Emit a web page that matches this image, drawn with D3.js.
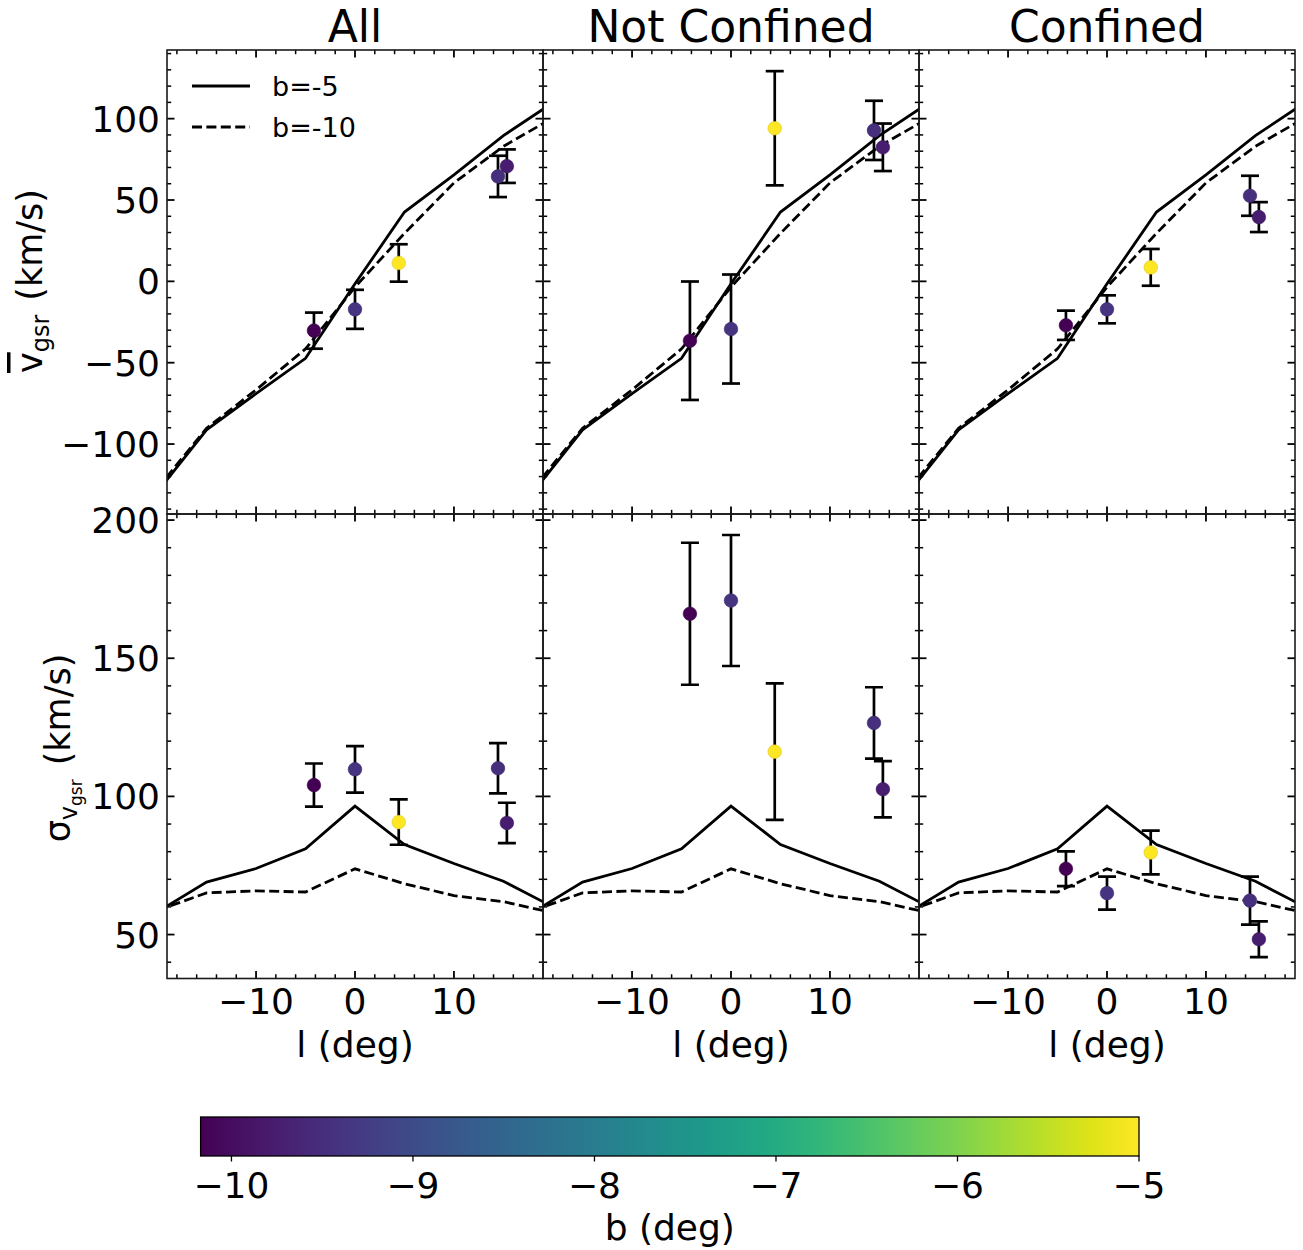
<!DOCTYPE html>
<html><head><meta charset="utf-8">
<script src="https://cdn.jsdelivr.net/npm/d3@7"></script>
<style>body{margin:0;background:#fff}svg{display:block}text{font-family:"DejaVu Sans",sans-serif;fill:#000}</style>
</head><body><svg id="c" width="1303" height="1250"></svg>
<script>
const panelTitles = ["All", "Not Confined", "Confined"];
const pointL = [-4.15, 0, 4.42, 14.45, 15.35];
const pointB = [-10.17, -9.4, -5.0, -9.45, -9.75];
const meanAll = [-30.3, -17.2, 11.3, 64.5, 70.8];
const meanAllErr = [11.1, 12.0, 11.5, 12.7, 10.3];
const meanNot = [-36.5, -29.3, 94.1, 92.8, 82.4];
const meanNotErr = [36.4, 33.5, 35.1, 18.2, 14.6];
const meanConf = [-27.0, -17.2, 8.6, 52.6, 39.5];
const meanConfErr = [9.0, 8.6, 11.3, 12.3, 9.2];
const sigAll = [104.1, 109.8, 90.7, 110.2, 90.4];
const sigAllErr = [7.8, 8.4, 8.2, 9.1, 7.3];
const sigNot = [166.1, 170.9, 116.2, 126.6, 102.6];
const sigNotErr = [25.7, 23.7, 24.7, 12.9, 10.2];
const sigConf = [73.8, 65.0, 79.7, 62.3, 48.3];
const sigConfErr = [6.3, 6.0, 7.9, 8.7, 6.5];
const modelL = [-20, -15, -10, -5, 0, 5, 10, 15, 20];
const meanB5 = [-129.7, -91.3, -69, -47.3, -1.5, 42.6, 65.5, 89.6, 109.8];
const meanB10 = [-127.5, -90.3, -66.7, -41.5, -3.5, 29.5, 60.5, 83, 100.5];
const sigB5 = [58.1, 69, 73.9, 81, 96.5, 82.6, 75.7, 69.3, 60];
const sigB10 = [58.7, 65.1, 65.8, 65.4, 73.8, 68.4, 64.1, 61.9, 57.9];
const xTicks = [-10, 0, 10];
const meanTicks = [-100, -50, 0, 50, 100];
const sigTicks = [50, 100, 150, 200];
const cbTicks = [-10, -9, -8, -7, -6, -5];
const legendLabels = ["b=-5", "b=-10"];

const svg = d3.select("#c");
const colX = [167, 543, 919], pw = 376;
const rowY = [[50, 514], [514, 978.5]];
const color = d3.scaleSequential(d3.interpolateViridis).domain([-10.17, -5]);
const fmt = v => (v < 0 ? "\u2212" + Math.abs(v) : "" + v);

const meanData = [[meanAll, meanAllErr], [meanNot, meanNotErr], [meanConf, meanConfErr]];
const sigData = [[sigAll, sigAllErr], [sigNot, sigNotErr], [sigConf, sigConfErr]];
const defs = svg.append("defs");

function panel(ci, ri) {
  const x0 = colX[ci], y0 = rowY[ri][0], y1 = rowY[ri][1];
  const x = d3.scaleLinear().domain([-19, 19]).range([x0, x0 + pw]);
  const y = ri === 0 ? d3.scaleLinear().domain([-143, 142.2]).range([y1, y0])
                     : d3.scaleLinear().domain([34.1, 202.2]).range([y1, y0]);
  const id = "clip" + ci + ri;
  defs.append("clipPath").attr("id", id).append("rect")
    .attr("x", x0).attr("y", y0).attr("width", pw).attr("height", y1 - y0);
  const g = svg.append("g");
  const inner = g.append("g").attr("clip-path", `url(#${id})`);
  const line = d3.line().x((d, i) => x(modelL[i])).y(d => y(d));
  const m5 = ri === 0 ? meanB5 : sigB5, m10 = ri === 0 ? meanB10 : sigB10;
  inner.append("path").attr("d", line(m5)).attr("fill", "none").attr("stroke", "#000").attr("stroke-width", 2.8);
  inner.append("path").attr("d", line(m10)).attr("fill", "none").attr("stroke", "#000").attr("stroke-width", 2.8).attr("stroke-dasharray", "10,4.4");
  const [vals, errs] = ri === 0 ? meanData[ci] : sigData[ci];
  const eb = inner.append("g").attr("stroke", "#000").attr("stroke-width", 2.7);
  vals.forEach((v, i) => {
    const px = x(pointL[i]);
    eb.append("line").attr("x1", px).attr("x2", px).attr("y1", y(v - errs[i])).attr("y2", y(v + errs[i]));
    eb.append("line").attr("x1", px - 9).attr("x2", px + 9).attr("y1", y(v - errs[i])).attr("y2", y(v - errs[i]));
    eb.append("line").attr("x1", px - 9).attr("x2", px + 9).attr("y1", y(v + errs[i])).attr("y2", y(v + errs[i]));
  });
  inner.append("g").selectAll("circle").data(vals).join("circle")
    .attr("cx", (d, i) => x(pointL[i])).attr("cy", d => y(d)).attr("r", 6.8)
    .attr("fill", (d, i) => color(pointB[i]))
    .attr("stroke", (d, i) => d3.color(color(pointB[i])).darker(0.4)).attr("stroke-width", 0.6);

  const tk = g.append("g").attr("stroke", "#000");
  const xMaj = xTicks, xMin = d3.range(-18, 19, 2).filter(v => v % 10 !== 0);
  const yDom = y.domain();
  const yMaj = ri === 0 ? meanTicks : sigTicks;
  const yMin = d3.range(Math.ceil(yDom[0] / 10) * 10, yDom[1], 10).filter(v => !yMaj.includes(v));
  xMaj.forEach(v => {
    tk.append("line").attr("x1", x(v)).attr("x2", x(v)).attr("y1", y1).attr("y2", y1 - 7.5).attr("stroke-width", 1.8);
    tk.append("line").attr("x1", x(v)).attr("x2", x(v)).attr("y1", y0).attr("y2", y0 + 7.5).attr("stroke-width", 1.8);
  });
  xMin.forEach(v => {
    tk.append("line").attr("x1", x(v)).attr("x2", x(v)).attr("y1", y1).attr("y2", y1 - 4.2).attr("stroke-width", 1.5);
    tk.append("line").attr("x1", x(v)).attr("x2", x(v)).attr("y1", y0).attr("y2", y0 + 4.2).attr("stroke-width", 1.5);
  });
  yMaj.filter(v => y(v) >= y0 - 0.5 && y(v) <= y1).forEach(v => {
    tk.append("line").attr("x1", x0).attr("x2", x0 + 7.5).attr("y1", y(v)).attr("y2", y(v)).attr("stroke-width", 1.8);
    tk.append("line").attr("x1", x0 + pw).attr("x2", x0 + pw - 7.5).attr("y1", y(v)).attr("y2", y(v)).attr("stroke-width", 1.8);
  });
  yMin.forEach(v => {
    tk.append("line").attr("x1", x0).attr("x2", x0 + 4.2).attr("y1", y(v)).attr("y2", y(v)).attr("stroke-width", 1.5);
    tk.append("line").attr("x1", x0 + pw).attr("x2", x0 + pw - 4.2).attr("y1", y(v)).attr("y2", y(v)).attr("stroke-width", 1.5);
  });
  g.append("rect").attr("x", x0).attr("y", y0).attr("width", pw).attr("height", y1 - y0)
    .attr("fill", "none").attr("stroke", "#1a1a1a").attr("stroke-width", 1.6);

  if (ci === 0) {
    yMaj.forEach(v => {
      g.append("text").attr("x", x0 - 7).attr("y", y(v)).attr("dy", "0.36em")
        .attr("text-anchor", "end").attr("font-size", 36).text(fmt(v));
    });
  }
  if (ri === 1) {
    xMaj.forEach(v => {
      g.append("text").attr("x", x(v)).attr("y", y1 + 35).attr("text-anchor", "middle")
        .attr("font-size", 36).text(fmt(v));
    });
    g.append("text").attr("x", x0 + pw / 2).attr("y", y1 + 78).attr("text-anchor", "middle")
      .attr("font-size", 36).text("l (deg)");
  }
  if (ri === 0) {
    g.append("text").attr("x", x0 + pw / 2).attr("y", 42).attr("text-anchor", "middle")
      .attr("font-size", 44).text(panelTitles[ci]);
  }
  if (ci === 0 && ri === 0) {
    const lg = g.append("g");
    [0, 1].forEach(k => {
      const ly = 86 + k * 41;
      lg.append("line").attr("x1", 192).attr("x2", 250).attr("y1", ly).attr("y2", ly)
        .attr("stroke", "#000").attr("stroke-width", 2.8).attr("stroke-dasharray", k ? "10,4.4" : null);
      lg.append("text").attr("x", 272).attr("y", ly).attr("dy", "0.36em").attr("font-size", 27).text(legendLabels[k]);
    });
  }
}
for (let ri = 0; ri < 2; ri++) for (let ci = 0; ci < 3; ci++) panel(ci, ri);

const yl1 = svg.append("text").attr("transform", "translate(42,281) rotate(-90)")
  .attr("text-anchor", "middle").attr("font-size", 35);
yl1.append("tspan").style("text-decoration", "overline").text("v");
yl1.append("tspan").attr("font-size", 24).attr("dy", 7).text("gsr");
yl1.append("tspan").attr("dy", -7).text("\u2009\u2009(km/s)");

const yl2 = svg.append("text").attr("transform", "translate(70,748) rotate(-90)")
  .attr("text-anchor", "middle").attr("font-size", 35);
yl2.append("tspan").text("\u03c3");
yl2.append("tspan").attr("font-size", 24).attr("dy", 7).text("v");
yl2.append("tspan").attr("font-size", 17).attr("dy", 5).text("gsr");
yl2.append("tspan").attr("dy", -12).text("\u2009\u2009(km/s)");

const cbX0 = 200.6, cbX1 = 1139, cbY0 = 1117, cbY1 = 1156;
const cx = d3.scaleLinear().domain([-10.17, -5]).range([cbX0, cbX1]);
const grad = defs.append("linearGradient").attr("id", "vir").attr("x1", "0%").attr("x2", "100%");
d3.range(0, 1.0001, 0.05).forEach(t => grad.append("stop").attr("offset", (t * 100) + "%").attr("stop-color", d3.interpolateViridis(t)));
svg.append("rect").attr("x", cbX0).attr("y", cbY0).attr("width", cbX1 - cbX0).attr("height", cbY1 - cbY0)
  .attr("fill", "url(#vir)").attr("stroke", "#000").attr("stroke-width", 1.3);
cbTicks.forEach(v => {
  svg.append("line").attr("x1", cx(v)).attr("x2", cx(v)).attr("y1", cbY1).attr("y2", cbY1 + 5.5).attr("stroke", "#000").attr("stroke-width", 1.3);
  svg.append("text").attr("x", cx(v)).attr("y", 1198).attr("text-anchor", "middle").attr("font-size", 36).text(fmt(v));
});
svg.append("text").attr("x", (cbX0 + cbX1) / 2).attr("y", 1240).attr("text-anchor", "middle").attr("font-size", 36).text("b (deg)");
</script></body></html>
